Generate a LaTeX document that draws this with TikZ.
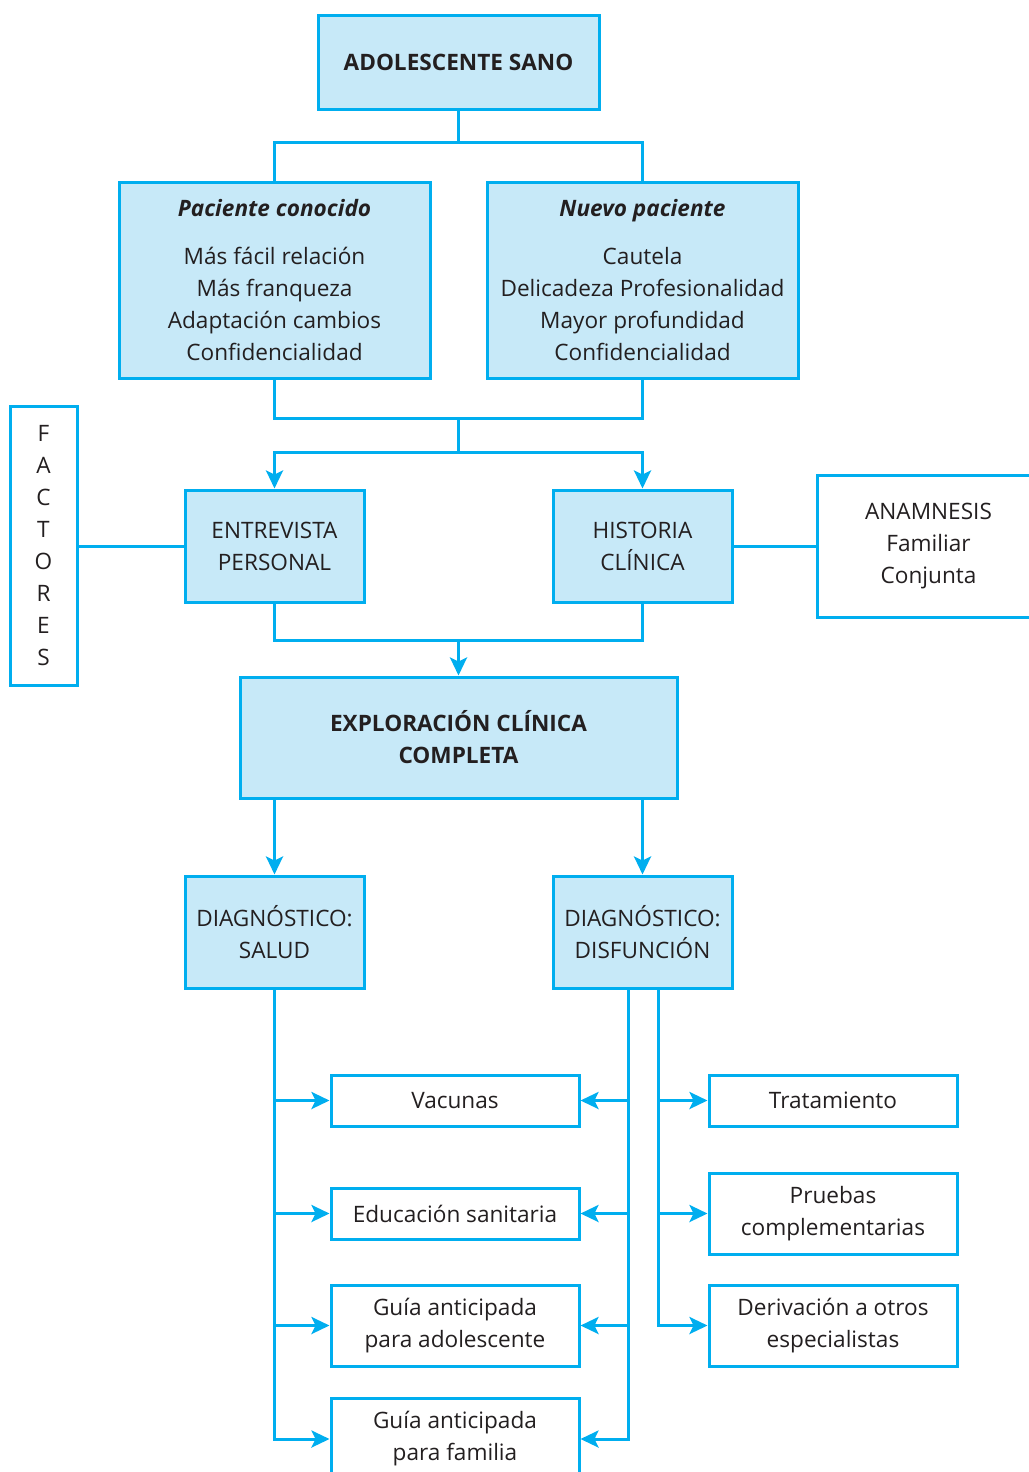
\documentclass[tikz,border=0pt]{standalone}
\usepackage{fontspec}
\setmainfont{Open Sans}
\usepackage{tikz}
\usetikzlibrary{arrows.meta}
\definecolor{boxline}{HTML}{00AEEF}
\definecolor{boxfill}{HTML}{C7E9F8}
\definecolor{txtgray}{HTML}{231F20}
\tikzset{
  blk/.style  = {draw=boxline, fill=boxfill, line width=1.5pt, align=center,
                 inner sep=0pt, text=txtgray, font=\fontsize{11.3}{16}\selectfont},
  wht/.style  = {blk, fill=white},
  link/.style = {draw=boxline, line width=1.5pt},
  flow/.style = {link, -{Stealth[length=9pt, width=8.5pt, inset=2pt]}}
}

\begin{document}
\begin{tikzpicture}[x=0.5pt, y=-0.5pt]
  \useasboundingbox (0,0) rectangle (1028,1472);

  % top part
  \node[blk, minimum width=140.5pt, minimum height=47pt] (sano) at (458.5,62)
       {\textbf{ADOLESCENTE SANO}};
  \node[blk, minimum width=155.5pt, minimum height=98pt] (known) at (274.5,280)
       {\textbf{\textit{Paciente conocido}}\\[8pt]
        Más fácil relación\\Más franqueza\\Adaptación cambios\\Confidencialidad};
  \node[blk, minimum width=155.5pt, minimum height=98pt] (new) at (642.5,280)
       {\textbf{\textit{Nuevo paciente}}\\[8pt]
        Cautela\\Delicadeza Profesionalidad\\Mayor profundidad\\Confidencialidad};

  \coordinate (split1) at (458.5,142);
  \draw[link] (sano.south) -- (split1);
  \draw[link] (known.north) |- (split1) -| (new.north);

  % interview level
  \node[blk, minimum width=89.5pt, minimum height=56pt] (entrev) at (274.5,546)
       {ENTREVISTA\\PERSONAL};
  \node[blk, minimum width=89.5pt, minimum height=56pt] (hist) at (642.5,546)
       {HISTORIA\\CLÍNICA};
  \node[wht, minimum width=33.5pt, minimum height=139.5pt] (fact) at (43.5,546)
       {F\\A\\C\\T\\O\\R\\E\\S};
  \node[wht, minimum width=111.5pt, minimum height=71pt] (anam) at (928.5,546)
       {ANAMNESIS\\Familiar\\Conjunta};

  \coordinate (join1) at (458.5,418);
  \coordinate (split2) at (458.5,452);
  \draw[link] (known.south) |- (join1) -| (new.south);
  \draw[link] (join1) -- (split2);
  \draw[flow] (split2) -| (entrev.north);
  \draw[flow] (split2) -| (hist.north);
  \draw[link] (fact) -- (entrev);
  \draw[link] (hist) -- (anam);

  % exploration
  \node[blk, minimum width=218.5pt, minimum height=60.5pt] (explor) at (458.5,737.5)
       {\textbf{EXPLORACIÓN CLÍNICA}\\\textbf{COMPLETA}};
  \coordinate (join2) at (458.5,640);
  \draw[link] (entrev.south) |- (join2) -| (hist.south);
  \draw[flow] (join2) -- (explor.north);

  \node[blk, minimum width=89.5pt, minimum height=56pt] (salud) at (274.5,932)
       {DIAGNÓSTICO:\\SALUD};
  \node[blk, minimum width=89.5pt, minimum height=56pt] (disf) at (642.5,932)
       {DIAGNÓSTICO:\\DISFUNCIÓN};
  \draw[flow] (explor.south -| salud.north) -- (salud.north);
  \draw[flow] (explor.south -| disf.north) -- (disf.north);

  % actions
  \node[wht, minimum width=124pt, minimum height=25.5pt] (vac)   at (455,1100.5) {Vacunas};
  \node[wht, minimum width=124pt, minimum height=25.5pt] (edu)   at (455,1213.5) {Educación sanitaria};
  \node[wht, minimum width=124pt, minimum height=40.5pt] (guiaa) at (455,1325.5) {Guía anticipada\\para adolescente};
  \node[wht, minimum width=124pt, minimum height=40.5pt] (guiaf) at (455,1439) {Guía anticipada\\para familia};
  \node[wht, minimum width=124pt, minimum height=25.5pt] (trat)  at (833,1100.5) {Tratamiento};
  \node[wht, minimum width=124pt, minimum height=40.5pt] (prueb) at (833,1213.5) {Pruebas\\complementarias};
  \node[wht, minimum width=124pt, minimum height=40.5pt] (deriv) at (833,1325.5) {Derivación a otros\\especialistas};

  \coordinate (dleft)  at (628,988);
  \coordinate (dright) at (658,988);
  \draw[flow] (salud.south) |- (guiaf.west);
  \draw[flow] (dleft) |- (guiaf.east);
  \draw[flow] (dright) |- (deriv.west);
  \foreach \n in {vac, edu, guiaa} {
    \draw[flow] (salud.south |- \n.west) -- (\n.west);
    \draw[flow] (dleft |- \n.east) -- (\n.east);
  }
  \foreach \n in {trat, prueb}
    \draw[flow] (dright |- \n.west) -- (\n.west);
\end{tikzpicture}
\end{document}
